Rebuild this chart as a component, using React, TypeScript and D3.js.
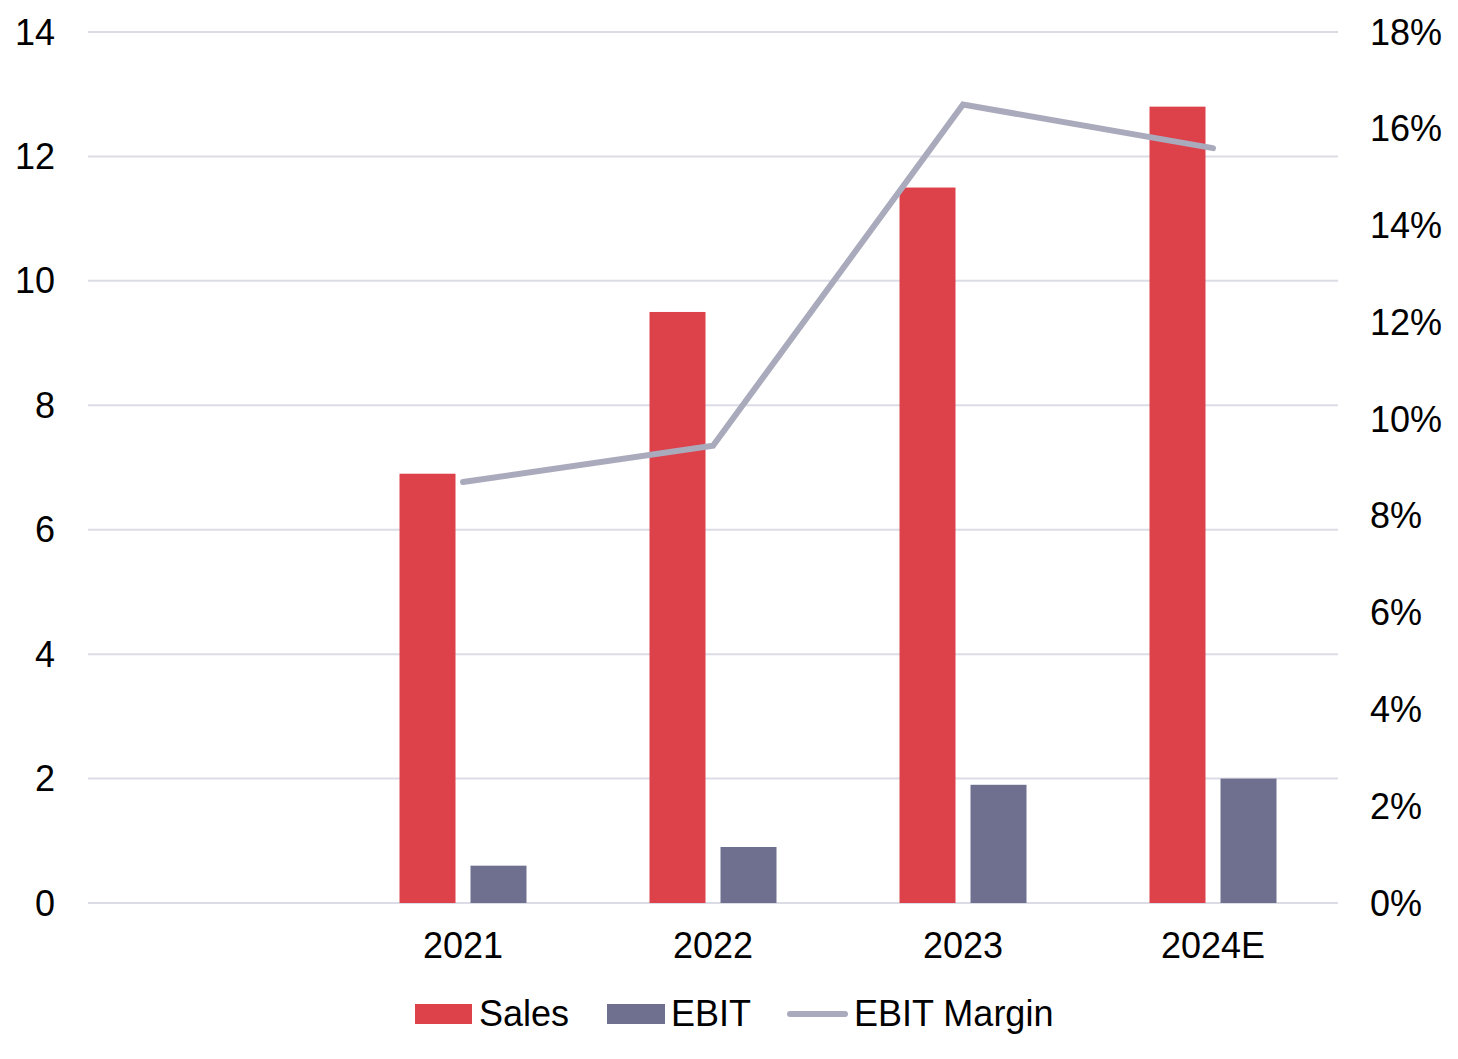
import React from "react";
import * as d3 from "d3";

const categories = ["", "2021", "2022", "2023", "2024E"];
const sales = [null, 6.9, 9.5, 11.5, 12.8];
const ebit = [null, 0.6, 0.9, 1.9, 2.0];
const margin = [null, 8.7, 9.45, 16.5, 15.6];
const leftTicks = [0, 2, 4, 6, 8, 10, 12, 14];
const rightTicks = [0, 2, 4, 6, 8, 10, 12, 14, 16, 18];

const W = 1458, H = 1059;
const plotL = 88, plotR = 1338, plotT = 32, plotB = 903;
const FONT = "Liberation Sans, Arial, sans-serif";
const FS = 36;
const RED = "#dd414a", PURPLE = "#6f708f", GRAY = "#a9aabc", GRID = "#dcdce6";

export default function App() {
  const x = d3.scaleBand<string>().domain(categories).range([plotL, plotR]);
  const yL = d3.scaleLinear().domain([0, 14]).range([plotB, plotT]);
  const yR = d3.scaleLinear().domain([0, 18]).range([plotB, plotT]);
  const barW = 56, gap = 15;
  const pts: [number, number][] = [];
  categories.forEach((c, i) => {
    if (margin[i] != null) pts.push([x(c)! + x.bandwidth() / 2, yR(margin[i] as number)]);
  });
  const line = d3.line();
  return (
    <svg width={W} height={H} style={{ position: "absolute", left: 0, top: 0 }} fontFamily={FONT}>
      <rect width={W} height={H} fill="#fff" />
      {leftTicks.map((t) => (
        <g key={t}>
          <line x1={plotL} x2={plotR} y1={yL(t)} y2={yL(t)} stroke={GRID} strokeWidth={2} />
          <text x={55} y={yL(t)} dy="0.35em" textAnchor="end" fontSize={FS} fill="#000">{t}</text>
        </g>
      ))}
      {rightTicks.map((t) => (
        <text key={t} x={1370} y={yR(t)} dy="0.35em" textAnchor="start" fontSize={FS} fill="#000">{t}%</text>
      ))}
      {categories.map((c, i) => {
        const cx = x(c)! + x.bandwidth() / 2;
        return (
          <g key={"c" + i}>
            {sales[i] != null && (
              <rect x={cx - gap / 2 - barW} y={yL(sales[i] as number)} width={barW} height={plotB - yL(sales[i] as number)} fill={RED} />
            )}
            {ebit[i] != null && (
              <rect x={cx + gap / 2} y={yL(ebit[i] as number)} width={barW} height={plotB - yL(ebit[i] as number)} fill={PURPLE} />
            )}
            {c && (
              <text x={cx} y={958} textAnchor="middle" fontSize={FS} fill="#000">{c}</text>
            )}
          </g>
        );
      })}
      <path d={line(pts) || ""} fill="none" stroke={GRAY} strokeWidth={6} strokeLinecap="round" strokeLinejoin="miter" />
      <g>
        <rect x={415} y={1004} width={57} height={20} fill={RED} />
        <text x={479} y={1026} fontSize={FS} fill="#000">Sales</text>
        <rect x={607} y={1004} width={58} height={20} fill={PURPLE} />
        <text x={671} y={1026} fontSize={FS} fill="#000">EBIT</text>
        <line x1={790} x2={845} y1={1014} y2={1014} stroke={GRAY} strokeWidth={6} strokeLinecap="round" />
        <text x={854} y={1026} fontSize={FS} fill="#000">EBIT Margin</text>
      </g>
    </svg>
  );
}
